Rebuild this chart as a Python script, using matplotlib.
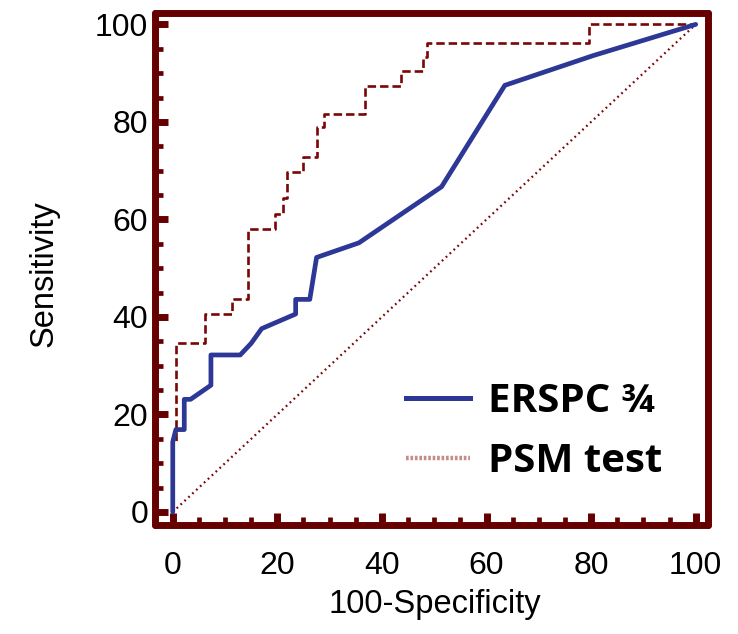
import matplotlib
matplotlib.use("Agg")
import matplotlib.pyplot as plt
from matplotlib.lines import Line2D
from matplotlib.ticker import MultipleLocator

# ROC curve data (100-Specificity vs Sensitivity)
ersp_x = [0, 0, 0.6, 2.2, 2.2, 3.4, 7.3, 7.3, 12.9, 15.0, 17.0, 23.5, 23.5,
          26.2, 27.5, 35.6, 51.4, 63.5, 80.4, 100]
ersp_y = [0, 14.4, 16.9, 16.9, 23.1, 23.1, 26.0, 32.2, 32.2, 34.6, 37.6, 40.6,
          43.6, 43.6, 52.2, 55.2, 66.7, 87.5, 93.6, 100]

psm_x = [0, 0, 0.6, 0.6, 6.1, 6.1, 11.4, 11.4, 14.4, 14.4, 19.5, 19.5, 21.0,
         21.0, 21.9, 21.9, 24.9, 24.9, 27.5, 27.5, 28.9, 28.9, 36.7, 36.7,
         43.6, 43.6, 47.9, 47.9, 48.6, 48.6, 79.6, 79.6, 100]
psm_y = [0, 14.4, 14.4, 34.6, 34.6, 40.6, 40.6, 43.6, 43.6, 58.1, 58.1, 61.2,
         61.2, 64.3, 64.3, 69.7, 69.7, 72.8, 72.8, 79.0, 79.0, 81.7, 81.7,
         87.3, 87.3, 90.4, 90.4, 93.3, 93.3, 96.2, 96.2, 100, 100]

diag = [0, 100]
labels = ["ERSPC \u00be", "PSM test"]

frame_col = "#660000"
blue = "#2d3796"
red = "#7a0606"

plt.rcParams["font.family"] = ["Liberation Sans", "DejaVu Sans"]

fig = plt.figure(figsize=(7.38, 6.34), dpi=100)
ax = fig.add_axes([0.210, 0.172, 0.749, 0.808])

ax.plot(diag, diag, color=red, lw=1.6, linestyle=(0, (0.8, 1.6)))
ax.plot(psm_x, psm_y, color=red, lw=1.9, linestyle=(0, (3.2, 1.5)))
ax.plot(ersp_x, ersp_y, color=blue, lw=3.4, solid_capstyle="round",
        solid_joinstyle="round")

ax.set_xlim(-3.4, 102.3)
ax.set_ylim(-2.66, 102.4)
ax.xaxis.set_major_locator(MultipleLocator(20))
ax.yaxis.set_major_locator(MultipleLocator(20))
ax.xaxis.set_minor_locator(MultipleLocator(5))
ax.yaxis.set_minor_locator(MultipleLocator(5))

for sp in ax.spines.values():
    sp.set_color(frame_col)
    sp.set_linewidth(5)
    sp.set_capstyle("round")
    sp.set_joinstyle("round")

ax.tick_params(which="major", direction="in", length=9, width=5,
               color=frame_col, labelsize=23)
ax.tick_params(which="minor", direction="in", length=5.5, width=3.4,
               color=frame_col)
ax.tick_params(axis="x", which="major", pad=19)
ax.tick_params(axis="y", which="major", pad=5)

ax.set_xlabel("100-Specificity", fontsize=23.5)
ax.set_ylabel("Sensitivity", fontsize=23.5)
ax.xaxis.set_label_coords(0.506, -0.126)
ax.yaxis.set_label_coords(-0.172, 0.49)

handles = [Line2D([], [], color=blue, lw=3.6),
           Line2D([], [], color="#c48c8c", lw=3.2, linestyle=(0, (0.6, 0.4)))]
ax.legend(handles, labels, loc="upper left", bbox_to_anchor=(0.455, 0.279),
          frameon=False, borderpad=0, borderaxespad=0, handlelength=1.57,
          handletextpad=0.45, labelspacing=0.52,
          prop={"family": ["Open Sans", "DejaVu Sans"], "weight": "bold",
                "size": 29})

fig.savefig("out.png", dpi=100)
